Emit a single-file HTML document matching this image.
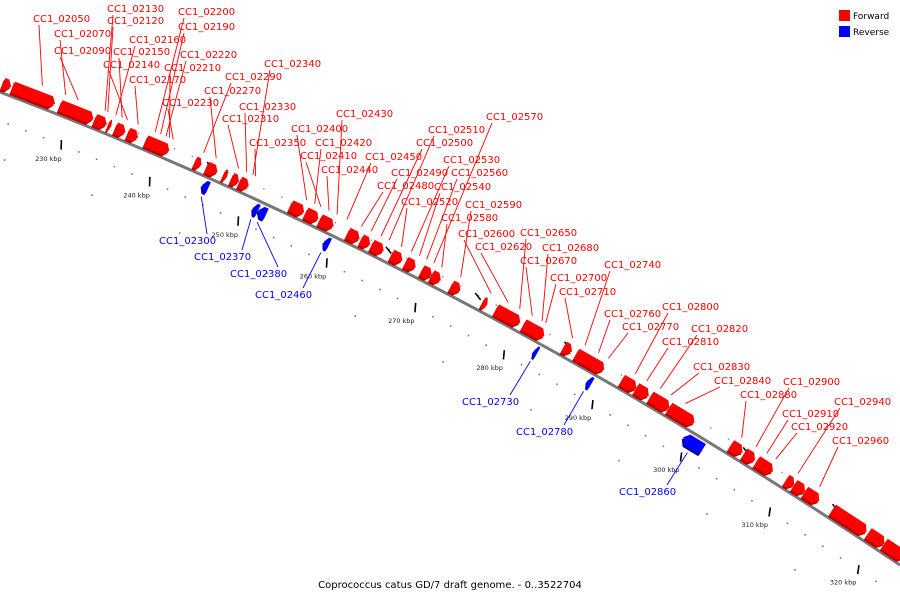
<!DOCTYPE html>
<html><head><meta charset="utf-8"><style>
html,body{margin:0;padding:0;background:#fff;}
svg{display:block;font-family:"DejaVu Sans","Liberation Sans",sans-serif;}
</style></head><body>
<svg id="chart" width="900" height="600" viewBox="0 0 900 600" xmlns="http://www.w3.org/2000/svg">
<g id="ticks"></g>
<path id="backbone" d="M0,92 Q450,262 900,565" fill="none" stroke="#777" stroke-width="3"/>
<g id="genes"></g>
<g id="labels"></g>
<g>
<rect x="839" y="10" width="11" height="11" fill="#f00"/>
<text x="853" y="19" font-size="9">Forward</text>
<rect x="839" y="26" width="11" height="11" fill="#00f"/>
<text x="853" y="35" font-size="9">Reverse</text>
</g>
<text x="450" y="588" font-size="10" text-anchor="middle">Coprococcus catus GD/7 draft genome. - 0..3522704</text>
</svg>
<script>
const geneStarts=[222.0,223.1,228.4,232.3,233.8,234.6,236.0,238.0,243.5,244.8,246.7,247.6,248.5,254.2,255.9,257.5,260.6,262.1,263.3,265.5,267.1,268.9,270.0,272.2,275.7,277.2,280.3,284.8,286.2,291.3,292.9,294.5,296.6,303.5,305.0,306.4,309.7,310.6,311.8,314.9,318.9,320.7,245.1,250.8,251.4,258.8,282.4,288.4,299.2];
const geneEnds=[222.9,227.8,232.1,233.6,234.1,235.7,237.1,240.6,244.2,246.0,247.1,248.4,249.5,255.7,257.3,259.0,261.9,263.1,264.6,266.7,268.2,270.0,271.0,273.2,276.2,279.9,282.6,285.7,289.3,292.9,294.3,296.6,299.4,304.8,306.2,308.2,310.6,311.8,313.4,318.7,320.7,323.0,245.8,251.4,252.3,259.4,282.8,288.9,301.4];
const geneStrand=[1,1,1,1,1,1,1,1,1,1,1,1,1,1,1,1,1,1,1,1,1,1,1,1,1,1,1,1,1,1,1,1,1,1,1,1,1,1,1,1,1,1,-1,-1,-1,-1,-1,-1,-1];
const labelText=["CC1_02050","CC1_02070","CC1_02090","CC1_02130","CC1_02120","CC1_02160","CC1_02150","CC1_02140","CC1_02170","CC1_02200","CC1_02190","CC1_02220","CC1_02210","CC1_02230","CC1_02290","CC1_02270","CC1_02340","CC1_02330","CC1_02310","CC1_02350","CC1_02430","CC1_02400","CC1_02420","CC1_02410","CC1_02450","CC1_02440","CC1_02570","CC1_02510","CC1_02500","CC1_02530","CC1_02490","CC1_02560","CC1_02480","CC1_02540","CC1_02520","CC1_02590","CC1_02580","CC1_02600","CC1_02650","CC1_02620","CC1_02680","CC1_02670","CC1_02740","CC1_02700","CC1_02710","CC1_02800","CC1_02760","CC1_02770","CC1_02820","CC1_02810","CC1_02830","CC1_02840","CC1_02900","CC1_02880","CC1_02940","CC1_02910","CC1_02920","CC1_02960","CC1_02300","CC1_02370","CC1_02380","CC1_02460","CC1_02730","CC1_02780","CC1_02860"];
const labelKbp=[225.9,228.5,229.9,232.9,233.2,234.1,234.8,235.4,236.6,238.5,239.1,239.7,240.1,240.5,243.9,245.3,249.4,248.7,247.8,249.7,258.8,255.4,256.3,257.0,259.9,257.9,269.6,264.6,263.7,267.1,262.6,268.8,261.5,268.0,266.0,272.6,270.5,276.0,279.2,277.9,281.7,280.6,286.5,282.1,285.1,292.1,288.0,289.1,294.9,293.4,296.1,297.7,305.6,304.0,310.3,306.8,307.8,312.7,245.5,251.1,251.8,259.0,282.6,288.6,300.3];
const labelX=[33,54,54,107,107,129,113,103,129,178,178,180,164,162,225,204,264,239,222,249,336,291,315,300,365,321,486,428,416,443,391,451,377,434,401,465,441,458,520,475,542,520,604,550,559,662,604,622,691,662,693,714,783,740,834,782,791,832,159,194,230,255,462,516,619];
const labelY=[22,37,54,12,24,43,55,68,83,15,30,58,71,106,80,94,67,110,122,146,117,132,146,159,160,173,120,133,146,163,176,176,189,190,205,208,221,237,236,250,251,264,268,281,295,310,317,330,332,345,370,384,385,398,405,417,430,444,244,260,277,298,405,435,495];
const tickKbp=[230,240,250,260,270,280,290,300,310,320];
const tickText=["230 kbp","240 kbp","250 kbp","260 kbp","270 kbp","280 kbp","290 kbp","300 kbp","310 kbp","320 kbp"];

const NS="http://www.w3.org/2000/svg";
const P0=[0,92],C=[450,262],P2=[900,565];
function tOf(k){return (k-222)/101;}
function pt(k,off){const t=tOf(k),u=1-t;
 const x=u*u*P0[0]+2*t*u*C[0]+t*t*P2[0], y=u*u*P0[1]+2*t*u*C[1]+t*t*P2[1];
 const dx=2*u*(C[0]-P0[0])+2*t*(P2[0]-C[0]), dy=2*u*(C[1]-P0[1])+2*t*(P2[1]-C[1]);
 const L=Math.hypot(dx,dy); return [x+off*dy/L, y-off*dx/L];}
function mk(tag,attrs,parent){const e=document.createElementNS(NS,tag);for(const a in attrs)e.setAttribute(a,attrs[a]);parent.appendChild(e);return e;}

const tg=document.getElementById('ticks');
for(let k=222;k<=323;k+=2){
 const a=pt(k,-27);
 const d=mk('rect',{x:a[0]-0.8,y:a[1]-0.8,width:1.6,height:1.6,fill:'#777'},tg);
 
 
 const b=pt(k+1,13);
 const d2=mk('rect',{x:b[0]-0.7,y:b[1]-0.7,width:1.4,height:1.4,fill:'#888'},tg);
 
 
}
for(let k=225;k<=323;k+=10){
 const a=pt(k,-62);
 const d=mk('rect',{x:a[0]-0.8,y:a[1]-0.8,width:1.6,height:1.6,fill:'#777'},tg);
 
 
 const a1=pt(k-0.3,12),a2=pt(k+0.3,12);
 const m=mk('line',{x1:a1[0],y1:a1[1]-2,x2:a2[0],y2:a2[1]+2,stroke:'#000','stroke-width':1.5},tg);
 
 
}
tickKbp.forEach((k,i)=>{
 const a=pt(k,-24),b=pt(k,-30);
 const l=mk('line',{x1:a[0]-1,y1:a[1]-2,x2:b[0]+1,y2:b[1]+2,stroke:'#000','stroke-width':1.6},tg);
 
 
 const c=pt(k,-40);
 const t=mk('text',{x:c[0]-8,y:c[1]+4,'font-size':6.5,fill:'#222','text-anchor':'middle'},tg);
 t.textContent=tickText[i];
 
 
});

const gg=document.getElementById('genes');
geneStarts.forEach((s,i)=>{
 const e=geneEnds[i],st=geneStrand[i];
 const ah=Math.min(0.45,(e-s)/2);
 const o1=st>0?3:-3,o2=st>0?15:-15,om=(o1+o2)/2;
 let pts;
 if(st>0) pts=[pt(s,o1),pt(s,o2),pt(e-ah,o2),pt(e,om),pt(e-ah,o1)];
 else pts=[pt(s,om),pt(s+ah,o2),pt(e,o2),pt(e,o1),pt(s+ah,o1)];
 const col=st>0?'#f00':'#00f', dark=st>0?'#b00':'#00a';
 const sh=pts.map(p=>[p[0]-1.5,p[1]+2]);
 const s1=mk('polygon',{points:sh.map(p=>p.join(',')).join(' '),fill:dark},gg);
 
 
 const g=mk('polygon',{points:pts.map(p=>p.join(',')).join(' '),fill:col},gg);
 
 
});

const lg=document.getElementById('labels');
labelText.forEach((txt,i)=>{
 const blue=txt==="CC1_02300"||txt==="CC1_02370"||txt==="CC1_02380"||txt==="CC1_02460"||txt==="CC1_02730"||txt==="CC1_02780"||txt==="CC1_02860";
 const col=blue?'#00f':'#f00';
 const x=labelX[i],y=labelY[i];
 const g=pt(labelKbp[i],blue?-20:21);
 const sx=blue?x+48:x+6, sy=blue?y-10:y+3;
 const l=mk('line',{x1:sx,y1:sy,x2:g[0],y2:g[1],stroke:col,'stroke-width':0.9},lg);
 
 
 const t=mk('text',{x:x,y:y,'font-size':10,fill:col},lg);
 t.textContent=txt;
 
 
});
</script>
</body></html>
